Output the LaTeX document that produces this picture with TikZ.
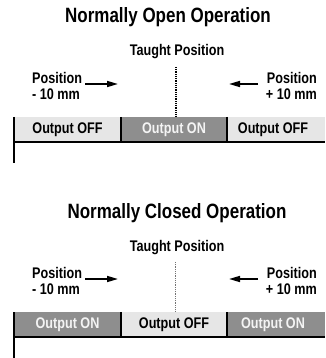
\documentclass[tikz,border=0pt]{standalone}
\usepackage{fontspec}
\setmainfont{Liberation Sans}[FakeStretch=0.82]
\usetikzlibrary{arrows.meta}
\definecolor{lightbar}{HTML}{E6E6E6}
\definecolor{darkbar}{HTML}{8E8E8E}
\definecolor{ontext}{HTML}{F4F4F4}
\begin{document}
\begin{tikzpicture}[x=1pt,y=-1pt,
  titletext/.style={font=\fontsize{20.7}{23}\selectfont\bfseries, inner sep=0pt, anchor=base},
  lbl/.style={font=\fontsize{15.4}{17}\selectfont\bfseries, inner sep=0pt, anchor=base},
  arr/.style={line width=1.6pt, -{Triangle[length=11pt,width=6pt]}},
  divider/.style={line width=1.5pt},
  frame/.style={line width=2pt},
  offtext/.style={lbl, text=black},
  ontxt/.style={lbl, text=ontext}]
\useasboundingbox (0,0) rectangle (325,358);

% ---------- Normally Open ----------
\node[titletext] (t1) at (168,23) {Normally Open Operation};
\node[lbl] (tp1) at (177,56) {Taught Position};
\node[lbl, anchor=base west] (pl1) at (32,83.5) {Position};
\node[lbl, anchor=base west] (pm1) at (32,99.5) {- 10 mm};
\node[lbl, anchor=base east] (pr1) at (317,83.5) {Position};
\node[lbl, anchor=base east] (pp1) at (317,99.5) {+ 10 mm};
\coordinate (a1s) at (85,84); \coordinate (a1e) at (118,84);
\coordinate (b1s) at (258,84); \coordinate (b1e) at (229,84);
\draw[arr] (a1s) -- (a1e);
\draw[arr] (b1s) -- (b1e);
\coordinate (d1s) at (176,67); \coordinate (d1e) at (176,117);
\draw[line width=1.3pt, dash pattern=on 1pt off 0.8pt] (d1s) -- (d1e);
\fill[lightbar] (14,117) rectangle (121,142);
\fill[darkbar] (121,117) rectangle (227,142);
\fill[lightbar] (227,117) rectangle (325,142);
\draw[divider] (121,117) -- (121,142);
\draw[divider] (227,117) -- (227,142);
\draw[frame] (14,142) -- (325,142);
\draw[frame] (14,117) -- (14,163);
\node[offtext] (o11) at (67.5,133.5) {Output OFF};
\node[ontxt] (o12) at (174,133.5) {Output ON};
\node[offtext] (o13) at (273,133.5) {Output OFF};

% ---------- Normally Closed ----------
\begin{scope}[shift={(0,195)}]
\node[titletext] (t2) at (177,23) {Normally Closed Operation};
\node[lbl] (tp2) at (177,56) {Taught Position};
\node[lbl, anchor=base west] (pl2) at (32,83.5) {Position};
\node[lbl, anchor=base west] (pm2) at (32,99.5) {- 10 mm};
\node[lbl, anchor=base east] (pr2) at (317,83.5) {Position};
\node[lbl, anchor=base east] (pp2) at (317,99.5) {+ 10 mm};
\coordinate (a2s) at (85,84); \coordinate (a2e) at (118,84);
\coordinate (b2s) at (258,84); \coordinate (b2e) at (229,84);
\draw[arr] (a2s) -- (a2e);
\draw[arr] (b2s) -- (b2e);
\coordinate (d2s) at (175,67); \coordinate (d2e) at (175,116);
\draw[line width=1pt, black!55, dash pattern=on 1pt off 0.8pt] (d2s) -- (d2e);
\fill[darkbar] (14,117) rectangle (121,142);
\fill[lightbar] (121,117) rectangle (227,142);
\fill[darkbar] (227,117) rectangle (325,142);
\draw[divider] (121,117) -- (121,142);
\draw[divider] (227,117) -- (227,142);
\draw[frame] (14,142) -- (325,142);
\draw[frame] (14,117) -- (14,163);
\node[ontxt] (o21) at (67.5,133.5) {Output ON};
\node[offtext] (o22) at (174,133.5) {Output OFF};
\node[ontxt] (o23) at (273,133.5) {Output ON};
\end{scope}
\end{tikzpicture}
\end{document}
